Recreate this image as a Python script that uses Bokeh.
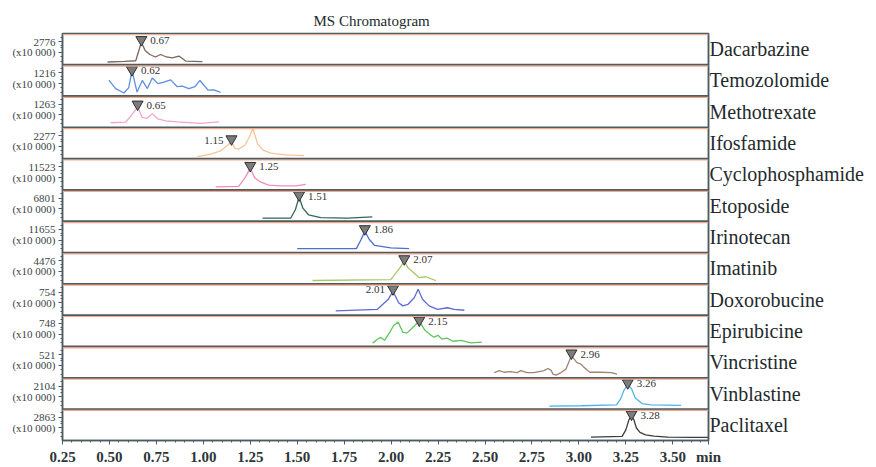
import numpy as np
from bokeh.plotting import figure
from bokeh.models import (Range1d, LinearAxis, FixedTicker, Span, Title, ColumnDataSource)
from bokeh.core.properties import value
from bokeh.embed import file_html
from bokeh.resources import INLINE

# compounds, top panel first
names = ["Dacarbazine", "Temozolomide", "Methotrexate", "Ifosfamide",
         "Cyclophosphamide", "Etoposide", "Irinotecan", "Imatinib",
         "Doxorobucine", "Epirubicine", "Vincristine", "Vinblastine", "Paclitaxel"]
# full-scale intensity of each panel (x10 000 counts)
scales = [2776, 1216, 1263, 2277, 11523, 6801, 11655, 4476, 754, 748, 521, 2104, 2863]
# retention times of the marked peaks (min)
rts = [0.67, 0.62, 0.65, 1.15, 1.25, 1.51, 1.86, 2.07, 2.01, 2.15, 2.96, 3.26, 3.28]
colors = ["#7d665c", "#5d8fe0", "#f2a6c8", "#f8c393", "#f08db5", "#2f6b50", "#4a70d2",
          "#a9c66e", "#5d6bd2", "#5fc65f", "#a08474", "#4db3e8", "#3c3c3c"]
label_left = ["Ifosfamide", "Doxorobucine"]
# time axis tick labels
time_ticks = [0.25, 0.50, 0.75, 1.00, 1.25, 1.50, 1.75, 2.00, 2.25, 2.50, 2.75, 3.00, 3.25, 3.50]
time_unit = "min"

# traces: time (min) and intensity (% of panel full scale)
t_dacarbazine = [0.49, 0.58, 0.64, 0.67, 0.69, 0.715, 0.745, 0.772, 0.804, 0.835, 0.87, 0.906, 0.95, 0.995]
i_dacarbazine = [9, 11, 13, 72, 46, 33, 25, 33, 25, 22, 28, 12, 11, 10]

t_temozolomide = [0.497, 0.533, 0.577, 0.603, 0.62, 0.647, 0.675, 0.702, 0.728, 0.758, 0.79, 0.826,
                  0.861, 0.888, 0.923, 0.955, 0.982, 1.025, 1.056, 1.092]
i_temozolomide = [51, 24, 10, 27, 82, 13, 50, 24, 58, 40, 45, 52, 30, 32, 24, 30, 50, 19, 20, 12]

t_methotrexate = [0.506, 0.586, 0.618, 0.65, 0.675, 0.701, 0.728, 0.758, 0.799, 0.861, 0.986, 1.083]
i_methotrexate = [15, 17, 39, 66, 32, 29, 44, 27, 21, 18, 13, 18]

t_ifosfamide = [0.968, 1.039, 1.092, 1.124, 1.15, 1.168, 1.19, 1.222, 1.247, 1.264, 1.288, 1.316,
                1.359, 1.439, 1.536]
i_ifosfamide = [7, 15, 25, 41, 55, 33, 31, 44, 72, 97, 49, 28, 18, 12, 10]

t_cyclophosphamide = [1.066, 1.188, 1.225, 1.25, 1.273, 1.30, 1.348, 1.412, 1.492, 1.545]
i_cyclophosphamide = [10, 12, 42, 70, 39, 27, 16, 13, 13, 18]

t_etoposide = [1.315, 1.465, 1.49, 1.51, 1.53, 1.56, 1.625, 1.768, 1.90]
i_etoposide = [10, 10, 37, 78, 42, 21, 12, 10, 14]

t_irinotecan = [1.50, 1.815, 1.84, 1.86, 1.884, 1.912, 1.998, 2.096]
i_irinotecan = [13, 13, 42, 68, 42, 23, 15, 13]

t_imatinib = [1.581, 1.998, 2.04, 2.07, 2.09, 2.12, 2.15, 2.185, 2.238]
i_imatinib = [11, 14, 46, 72, 52, 36, 20, 23, 11]

t_doxorobucine = [1.705, 1.927, 1.985, 2.01, 2.04, 2.062, 2.09, 2.123, 2.144, 2.167, 2.202, 2.247,
                  2.30, 2.336, 2.39]
i_doxorobucine = [14, 19, 51, 77, 40, 30, 35, 56, 83, 51, 30, 19, 24, 19, 16]

t_epirubicine = [1.901, 1.929, 1.944, 1.965, 1.993, 2.014, 2.038, 2.062, 2.084, 2.11, 2.15, 2.18,
                 2.206, 2.228, 2.249, 2.27, 2.297, 2.329, 2.372, 2.425, 2.483]
i_epirubicine = [11, 24, 30, 20, 46, 68, 78, 46, 43, 58, 82, 52, 39, 30, 36, 24, 27, 17, 20, 12, 14]

t_vincristine = [2.549, 2.576, 2.601, 2.638, 2.67, 2.691, 2.723, 2.76, 2.787, 2.814, 2.835, 2.851,
                 2.862, 2.878, 2.905, 2.931, 2.948, 2.96, 2.99, 3.011, 3.027, 3.043, 3.059,
                 3.118, 3.171, 3.203]
i_vincristine = [17, 23, 18, 20, 17, 23, 17, 17, 20, 23, 30, 25, 12, 9, 17, 28, 53, 71, 49, 44,
                 34, 25, 18, 18, 17, 12]

t_vinblastine = [2.842, 3.011, 3.20, 3.222, 3.238, 3.26, 3.28, 3.30, 3.336, 3.384, 3.464, 3.544]
i_vinblastine = [10, 11, 14, 33, 58, 80, 65, 36, 18, 14, 13, 12]

t_paclitaxel = [3.064, 3.23, 3.25, 3.266, 3.28, 3.293, 3.306, 3.325, 3.355, 3.40, 3.475, 3.597, 3.69]
i_paclitaxel = [11, 13, 34, 66, 79, 66, 40, 26, 18, 14, 11, 10, 10]

traces = [(t_dacarbazine, i_dacarbazine), (t_temozolomide, i_temozolomide),
          (t_methotrexate, i_methotrexate), (t_ifosfamide, i_ifosfamide),
          (t_cyclophosphamide, i_cyclophosphamide), (t_etoposide, i_etoposide),
          (t_irinotecan, i_irinotecan), (t_imatinib, i_imatinib),
          (t_doxorobucine, i_doxorobucine), (t_epirubicine, i_epirubicine),
          (t_vincristine, i_vincristine), (t_vinblastine, i_vinblastine),
          (t_paclitaxel, i_paclitaxel)]

SERIF = "Liberation Serif"
DARK = "#4e5b61"
ORANGE = "#f3a98d"
PANEL = 100          # height of one panel in y units
X_END = 3.69
n = len(names)

title = Title(text="MS Chromatogram", align="left", offset=251, standoff=9,
              text_font=SERIF, text_font_size="15px", text_font_style="normal",
              text_color="#222a2c")
p = figure(width=876, height=467, x_range=Range1d(0.25, X_END), y_range=Range1d(0, n * PANEL),
           output_backend="svg", toolbar_location=None, title=title,
           min_border_left=62, min_border_right=168, min_border_top=33, min_border_bottom=25)
p.background_fill_color = "white"
p.border_fill_color = "white"
p.outline_line_color = DARK
p.outline_line_width = 1.5
p.xgrid.visible = False
p.ygrid.visible = False

# bottom time axis; the unit sits at the right end of the axis
xa = p.xaxis[0]
x_minor = [round(0.25 + 0.05 * k, 2) for k in range(69)]
xa.ticker = FixedTicker(ticks=time_ticks + [X_END], minor_ticks=x_minor)
xa.major_label_overrides = {**{t: f"{t:.2f}" for t in time_ticks}, X_END: time_unit}
xa.axis_line_color = DARK
xa.axis_line_width = 1.5
xa.major_tick_line_color = DARK
xa.minor_tick_line_color = DARK
xa.major_tick_in = 0
xa.major_tick_out = 4
xa.minor_tick_in = 0
xa.minor_tick_out = 2
xa.major_label_standoff = 4
xa.major_label_text_font = SERIF
xa.major_label_text_font_size = "15px"
xa.major_label_text_font_style = "bold"
xa.major_label_text_color = "#2e3638"

# left axis: full-scale value and multiplier for every panel
ya = p.yaxis[0]
left_ticks, left_minor, left_labels = [], [], {}
for i, s in enumerate(scales):
    base = (n - 1 - i) * PANEL
    left_ticks += [base + 74, base + 40]
    left_labels[base + 74] = str(s)
    left_labels[base + 40] = "(x10 000)"
    left_minor += [base + k for k in (12, 26, 54, 62, 88)]
ya.ticker = FixedTicker(ticks=left_ticks, minor_ticks=left_minor)
ya.major_label_overrides = left_labels
ya.axis_line_color = DARK
ya.axis_line_width = 1.5
ya.major_tick_line_color = DARK
ya.minor_tick_line_color = DARK
ya.major_tick_in = 0
ya.major_tick_out = 4
ya.minor_tick_in = 0
ya.minor_tick_out = 2
ya.major_label_standoff = 3
ya.major_label_text_font = SERIF
ya.major_label_text_font_size = "11px"
ya.major_label_text_color = "#3a4448"

# right axis: compound names
name_ticks = [(n - 1 - i) * PANEL + 50 for i in range(n)]
ra = LinearAxis(ticker=FixedTicker(ticks=name_ticks, minor_ticks=[]),
                major_label_overrides={tk: nm for tk, nm in zip(name_ticks, names)})
ra.axis_line_color = DARK
ra.axis_line_width = 1.5
ra.major_tick_line_color = None
ra.minor_tick_line_color = None
ra.major_tick_out = 0
ra.major_tick_in = 0
ra.major_label_standoff = 1
ra.major_label_text_font = SERIF
ra.major_label_text_font_size = "20px"
ra.major_label_text_color = "#1f2a2d"
p.add_layout(ra, "right")

# panel separators
for k in range(1, n + 1):
    loc = k * PANEL
    if k < n:
        p.add_layout(Span(location=loc, dimension="width", line_color=DARK, line_width=2))
    p.add_layout(Span(location=loc - 4, dimension="width", line_color=ORANGE, line_width=1.2))

# traces, peak markers and retention-time labels
mk_x, mk_y = [], []
lab_r = {"x": [], "y": [], "t": []}
lab_l = {"x": [], "y": [], "t": []}
for i, ((tt, ii), rt, col, nm) in enumerate(zip(traces, rts, colors, names)):
    base = (n - 1 - i) * PANEL
    yy = [base + v for v in ii]
    p.line(tt, yy, line_color=col, line_width=1.3)
    peak = float(np.interp(rt, tt, ii))
    my = base + min(peak + 8, 84)
    mk_x.append(rt)
    mk_y.append(my)
    d = lab_l if nm in label_left else lab_r
    d["x"].append(rt)
    d["y"].append(my)
    d["t"].append(f"{rt:.2f}")

p.scatter(mk_x, mk_y, marker="inverted_triangle", size=11,
          fill_color="#7c7c7c", line_color="#303030", line_width=1)
p.text(x="x", y="y", text="t", source=ColumnDataSource(lab_r), x_offset=9, y_offset=1,
       text_align="left", text_baseline="middle", text_font=value(SERIF),
       text_font_size="11px", text_color="#333333")
p.text(x="x", y="y", text="t", source=ColumnDataSource(lab_l), x_offset=-8, y_offset=1,
       text_align="right", text_baseline="middle", text_font=value(SERIF),
       text_font_size="11px", text_color="#333333")

open("out.html", "w").write(file_html(p, INLINE))
